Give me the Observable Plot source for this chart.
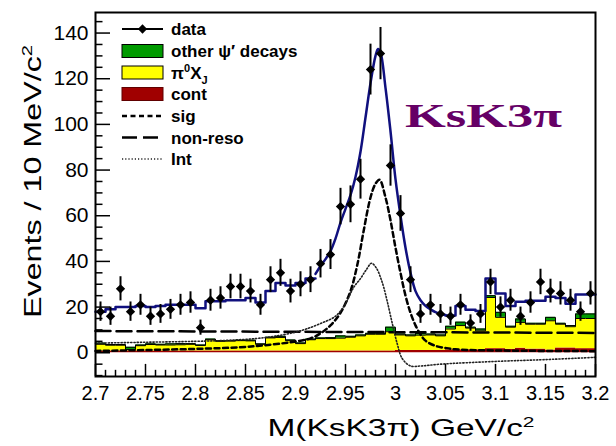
<!DOCTYPE html>
<html><head><meta charset="utf-8">
<script src="https://cdn.jsdelivr.net/npm/d3@7"></script>
<script src="https://cdn.jsdelivr.net/npm/@observablehq/plot@0.6"></script>
<style>
html,body{margin:0;padding:0;background:#fff;}
#chart{width:616px;height:446px;}
</style></head><body><div id="chart"></div>
<script>
// ---- bins (left edges, 10 MeV wide) ----
const binLeft = [2.70,2.71,2.72,2.73,2.74,2.75,2.76,2.77,2.78,2.79,2.80,2.81,2.82,2.83,2.84,2.85,2.86,2.87,2.88,2.89,
                 2.90,2.91,2.92,2.93,2.94,2.95,2.96,2.97,2.98,2.99,3.00,3.01,3.02,3.03,3.04,3.05,3.06,3.07,3.08,3.09,
                 3.10,3.11,3.12,3.13,3.14,3.15,3.16,3.17,3.18,3.19];
const binWidth = 0.01;
// ---- data counts ----
const dataCounts = [18,16,28,18,21,16,17,19,21,22,11,23,24,29,29,27,21,32,35,27,
                    30,32,39,43,64,65,76,124,131,82,61,32,17,21,17,16,21,13,17,31,
                    20,23,16,22,31,27,26,23,18,26];
// ---- stacked backgrounds (heights) ----
const contBkg  = [0.8,0.8,0.8,0.8,0.8,0.8,0.8,0.8,0.8,0.8,0.8,0.8,0.8,0.8,0.8,0.8,0.8,0.8,0.8,0.8,
                  0.8,0.8,0.8,0.8,0.8,0.8,0.8,0.8,0.8,0.8,1.0,1.0,1.0,1.0,1.0,1.3,1.3,1.3,1.3,1.8,
                  1.8,1.5,2.0,1.6,1.6,1.2,2.1,2.1,1.8,1.8];
const pi0XJ    = [2.9,2.5,2.5,0.6,2.3,2.8,2.6,2.6,2.7,2.9,2.4,4.9,4.2,4.3,4.5,4.4,2.9,5.7,5.9,4.5,
                  3.2,4.9,5.4,5.4,5.6,6.0,6.6,7.3,7.3,8.4,6.8,6.4,6.7,6.8,6.4,9.1,10.6,9.5,8.3,22.4,
                  13.7,9.7,11.3,10.9,10.9,12.8,10.4,9.3,13.2,13.2];
const otherPsi = [0.5,0.3,0.3,1.0,0.3,0.3,0.3,0.5,0.5,0.3,0.2,0.3,0.3,0.2,0.2,0.3,0.2,0.3,0.5,0.3,
                  0.3,0.3,0.3,0.4,1.0,0.4,0.4,0.4,0.4,2.0,0.4,0.4,0.8,0.4,0.4,1.2,1.5,0.4,0.8,0.8,
                  2.2,0.4,1.5,0.4,0.4,1.5,0.4,0.5,2.0,2.0];
// ---- total fit: binned part (null = smooth peak region) ----
const fitBinned = [18,19,20,20,20.5,20,20.5,21,21,21,19.5,22.5,22.5,23,23,24,22,27,30.5,29.5,
                   30.5,32.5,null,null,null,null,null,null,null,null,null,null,null,null,null,16.3,20.5,18.8,18.3,32.5,
                   26,20.5,22.3,22.8,22.8,24.5,24,21.5,25.5,25.5];
const fitPeakX = [2.92,2.925,2.93,2.935,2.94,2.945,2.95,2.955,2.96,2.965,2.97,2.975,2.98,2.9825,2.985,2.99,2.995,3.0,3.005,3.01,3.015,3.02,3.025,3.03,3.035,3.04,3.045,3.05];
const fitPeakY = [34.5,38,41,44.5,50,57,63,69,77,88,103,118,130,133,131.5,116,97,76,60,46,35,27,23,20.5,19,17.8,17,16.5];
// ---- components ----
const sigX = [2.70,2.75,2.80,2.845,2.87,2.895,2.915,2.925,2.935,2.945,2.955,2.962,2.968,2.975,2.98,2.984,2.99,2.995,3.0,3.005,3.01,3.015,3.02,3.025,3.03,3.04,3.05,3.06,3.1,3.2];
const sigY = [0.8,1.2,1.7,2.4,3.3,4.6,6.3,8.5,12,17.5,27,38.9,53,68,74,75.8,68,58,46,35,25,17.5,12,8,5.3,3,2.1,1.5,1.0,0.7];
const nonResoX = [2.70,2.95,3.20];
const nonResoY = [9.5,9.1,8.7];
const intX = [2.70,2.75,2.80,2.83,2.86,2.88,2.90,2.91,2.925,2.94,2.95,2.958,2.965,2.971,2.976,2.981,2.985,2.988,2.992,2.9967,3.0017,3.0067,3.015,3.025,3.045,3.1,3.15,3.2];
const intY = [4.2,4.6,5.0,5.4,6.2,7.3,9.0,10.3,12.8,16,21.5,28.5,32.5,36.5,39.2,37,33,29,22,13,4,-2.5,-5.8,-5.8,-5,-3.8,-3,-2];
// ---- ticks ----
const xTicks = [2.7,2.75,2.8,2.85,2.9,2.95,3.0,3.05,3.1,3.15,3.2];
const xTickLabels = ["2.7","2.75","2.8","2.85","2.9","2.95","3","3.05","3.1","3.15","3.2"];
const yTicks = [0,20,40,60,80,100,120,140];
const yTickLabels = ["0","20","40","60","80","100","120","140"];

// ---- build tables ----
const dataRows = binLeft.map((b,i)=>({x: b+binWidth/2, n: dataCounts[i]}));
const stackRows = binLeft.map((b,i)=>{
  const c = contBkg[i], y = c + pi0XJ[i], g = y + otherPsi[i];
  return {x1: b, x2: b+binWidth, c, y, g};
});
function stepPts(vals, key){
  const pts = [];
  binLeft.forEach((b,i)=>{
    const v = key ? vals[i][key] : vals[i];
    if (v == null) { pts.push({x: b, y: NaN}); return; }
    pts.push({x: b, y: v}); pts.push({x: b+binWidth, y: v});
  });
  return pts;
}
const fitStep = stepPts(fitBinned);
const yellowTop = stepPts(stackRows, "y");
const greenTop = stepPts(stackRows, "g");
const peakRows = fitPeakX.map((x,i)=>({x, y: fitPeakY[i]}));
const sigRows = sigX.map((x,i)=>({x, y: sigY[i]}));
const nonRows = nonResoX.map((x,i)=>({x, y: nonResoY[i]}));
const intRows = intX.map((x,i)=>({x, y: intY[i]}));

const yMinor = d3.range(-10, 149, 5).filter(v => v % 20 !== 0);
const xMinor = d3.range(0, 51).map(i => 2.7 + i*0.01).filter((v,i)=> i % 5 !== 0);

const X0 = 2.7, Y0 = -10.4;
const FIT = "#10107e";
const DOT = "1.2,2";
const plot = Plot.plot({
  width: 616, height: 446,
  marginLeft: 95, marginRight: 21, marginTop: 12, marginBottom: 70,
  x: {domain: [2.7, 3.2], label: null},
  y: {domain: [-10.4, 149], label: null},
  style: {fontFamily: "'Liberation Sans', Arial, sans-serif", background: "white", color: "black"},
  marks: [
    Plot.rect(stackRows, {x1: "x1", x2: "x2", y1: 0, y2: "c", fill: "#a00000"}),
    Plot.rect(stackRows, {x1: "x1", x2: "x2", y1: "c", y2: "y", fill: "#ffff00"}),
    Plot.rect(stackRows, {x1: "x1", x2: "x2", y1: "y", y2: "g", fill: "#009a00"}),
    Plot.line(yellowTop, {x: "x", y: "y", stroke: "black", strokeWidth: 1}),
    Plot.line(greenTop, {x: "x", y: "y", stroke: "black", strokeWidth: 1}),
    Plot.line(nonRows, {x: "x", y: "y", stroke: "black", strokeWidth: 2.5, strokeDasharray: "15,6"}),
    Plot.line(sigRows, {x: "x", y: "y", stroke: "black", strokeWidth: 2.5, strokeDasharray: "5,3.5", curve: "catmull-rom"}),
    Plot.line(intRows, {x: "x", y: "y", stroke: "#222", strokeWidth: 1.6, strokeDasharray: DOT, curve: "catmull-rom"}),
    Plot.line(fitStep, {x: "x", y: "y", stroke: FIT, strokeWidth: 2.5}),
    Plot.line(peakRows, {x: "x", y: "y", stroke: FIT, strokeWidth: 2.5, curve: "catmull-rom"}),
    Plot.ruleX(dataRows, {x: "x", y1: d => d.n - Math.sqrt(d.n), y2: d => d.n + Math.sqrt(d.n), stroke: "black", strokeWidth: 2}),
    Plot.dot(dataRows, {x: "x", y: "n", symbol: "diamond2", r: 4.2, fill: "black", stroke: "none"}),
    // ticks (inside)
    Plot.ruleY(yTicks, {y: d => d, x1: X0, x2: X0 + 0.015, stroke: "black", strokeWidth: 1.5}),
    Plot.ruleY(yMinor, {y: d => d, x1: X0, x2: X0 + 0.0075, stroke: "black", strokeWidth: 1.5}),
    Plot.ruleX(xTicks, {x: d => d, y1: Y0, y2: Y0 + 5.3, stroke: "black", strokeWidth: 1.5}),
    Plot.ruleX(xMinor, {x: d => d, y1: Y0, y2: Y0 + 2.7, stroke: "black", strokeWidth: 1.5}),
    Plot.frame({stroke: "black", strokeWidth: 2}),
    Plot.axisY({ticks: yTicks, tickSize: 0, tickPadding: 7, fontSize: 21, tickFormat: d => yTickLabels[yTicks.indexOf(d)]}),
    Plot.axisX({ticks: xTicks, tickSize: 0, tickPadding: 9, fontSize: 20, tickFormat: d => xTickLabels[xTicks.indexOf(d)]})
  ]
});
document.getElementById("chart").appendChild(plot);

const svg = d3.select(plot);
const SANS = "'Liberation Sans', Arial, sans-serif";
// axis titles
const xt = svg.append("text").attr("x", 401).attr("y", 436).attr("text-anchor", "middle")
  .attr("font-family", SANS).attr("font-size", 24).attr("fill", "black");
xt.append("tspan").text("M(KsK3π) GeV/c");
xt.append("tspan").attr("dy", -9).attr("font-size", 15).text("2");
xt.attr("textLength", 267).attr("lengthAdjust", "spacingAndGlyphs");

const yt = svg.append("text").attr("transform", "translate(41,181.5) rotate(-90)").attr("text-anchor", "middle")
  .attr("font-family", SANS).attr("font-size", 24).attr("fill", "black");
yt.append("tspan").text("Events / 10 MeV/c");
yt.append("tspan").attr("dy", -9).attr("font-size", 15).text("2");
yt.attr("textLength", 273).attr("lengthAdjust", "spacingAndGlyphs");

// title
svg.append("text").attr("x", 405).attr("y", 127).attr("text-anchor", "start")
  .attr("font-family", "'Liberation Serif', 'Times New Roman', serif")
  .attr("font-weight", "bold").attr("font-size", 34).attr("fill", "#660066")
  .attr("textLength", 157).attr("lengthAdjust", "spacingAndGlyphs").text("KsK3π");

// legend
const lg = svg.append("g").attr("font-family", SANS).attr("font-size", 17).attr("font-weight", "bold").attr("text-anchor", "start");
const legendItems = [
  {label: "data", kind: "data", y: 29},
  {label: "other ψ′ decays", kind: "box", fill: "#009a00", y: 51},
  {label: "π0XJ", kind: "box", fill: "#ffff00", y: 72.5},
  {label: "cont", kind: "box", fill: "#a00000", y: 94},
  {label: "sig", kind: "line", dash: "5,3.5", w: 2.5, y: 116},
  {label: "non-reso", kind: "line", dash: "15,6", w: 2.5, y: 137.5},
  {label: "Int", kind: "line", dash: DOT, w: 1.6, y: 159, stroke: "#222"}
];
legendItems.forEach(it => {
  if (it.kind === "data") {
    lg.append("line").attr("x1", 122).attr("x2", 163).attr("y1", it.y).attr("y2", it.y).attr("stroke", "black").attr("stroke-width", 2);
    lg.append("path").attr("d", d3.symbol(d3.symbolDiamond2, 55)()).attr("transform", `translate(142.5,${it.y})`).attr("fill", "black");
  } else if (it.kind === "box") {
    lg.append("rect").attr("x", 122).attr("y", it.y - 6.5).attr("width", 41).attr("height", 13).attr("fill", it.fill)
      .attr("stroke", it.fill === "#a00000" ? "#600000" : "black").attr("stroke-width", 1);
  } else {
    lg.append("line").attr("x1", 122).attr("x2", 163).attr("y1", it.y).attr("y2", it.y)
      .attr("stroke", it.stroke || "black").attr("stroke-width", it.w).attr("stroke-dasharray", it.dash);
  }
  const t = lg.append("text").attr("x", 171).attr("y", it.y).attr("dy", "0.36em").attr("fill", "black").attr("text-anchor", "start");
  if (it.label === "π0XJ") {
    t.append("tspan").text("π");
    t.append("tspan").attr("dy", -7).attr("font-size", 11).text("0");
    t.append("tspan").attr("dy", 7).text("X");
    t.append("tspan").attr("dy", 5).attr("font-size", 11).text("J");
  } else {
    t.text(it.label);
  }
});
</script>
</body></html>
